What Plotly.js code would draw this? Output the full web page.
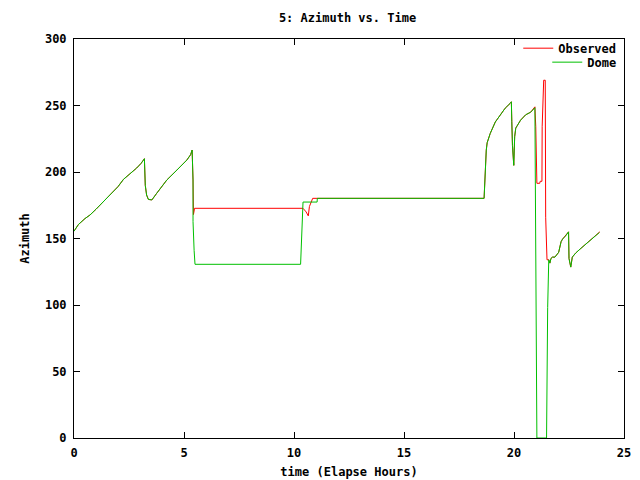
<!DOCTYPE html>
<html>
<head>
<meta charset="utf-8">
<script src="https://cdn.plot.ly/plotly-3.0.1.min.js"></script>
<style>html,body{margin:0;padding:0;background:#fff}#chart{width:640px;height:480px}</style>
</head>
<body>
<div id="chart"></div>
<script>
// Observed azimuth (red)
const obsTime = [0, 0.2, 0.5, 0.73, 1.0, 1.33, 1.79, 2.0, 2.25, 2.55, 2.85, 3.05, 3.2, 3.24, 3.3, 3.38, 3.54, 3.76, 4.0, 4.22, 4.68, 5.13, 5.3, 5.37, 5.41, 5.43, 5.48,
  10.41, 10.55, 10.65, 10.7, 10.78, 10.85, 18.64, 18.66, 18.7, 18.74, 18.78, 18.92, 19.15, 19.38, 19.6, 19.82, 19.88, 19.9, 19.93, 19.99, 20.03, 20.08, 20.3, 20.53, 20.76, 20.95,
  20.99, 21.04, 21.17, 21.19, 21.27, 21.28, 21.35, 21.42, 21.44, 21.5, 21.58, 21.63, 21.68, 21.75, 21.86, 22.03, 22.14, 22.21, 22.35, 22.48, 22.5, 22.58, 22.65, 22.8, 23.0, 23.2, 23.4, 23.6, 23.9];
const obsAz = [155.5, 160.5, 165, 167.7, 172, 177.7, 185, 189, 194.5, 198.5, 203, 206.5, 210, 190, 182.7, 179.4, 179, 184, 189, 194, 201.5, 209, 213, 216.5, 194, 168, 172.7,
  172.7, 170, 167, 174, 178, 180.2, 180.2, 188.7, 206.8, 216.5, 222, 229, 237.6, 242.8, 248, 251.5, 252.8, 237.8, 220, 205, 226.5, 233, 239, 243, 245, 249,
  234, 191.5, 191.5, 193, 193, 234, 269, 269, 166, 134, 134, 131.5, 135, 136, 136, 139.6, 147.6, 149.6, 152, 155, 135, 128.5, 136, 139, 142, 145, 148, 151, 155];

// Dome azimuth (green)
const domeTime = [0, 0.2, 0.5, 0.73, 1.0, 1.33, 1.79, 2.0, 2.25, 2.55, 2.85, 3.05, 3.2, 3.24, 3.3, 3.38, 3.54, 3.76, 4.0, 4.22, 4.68, 5.13, 5.3, 5.37, 5.41, 5.41, 5.46, 5.5,
  10.3, 10.33, 10.37, 10.41, 11.05, 11.06, 18.64, 18.66, 18.7, 18.74, 18.78, 18.92, 19.15, 19.38, 19.6, 19.82, 19.88, 19.9, 19.93, 19.99, 20.03, 20.08, 20.3, 20.53, 20.76, 20.95,
  20.97, 21.0, 21.04, 21.48, 21.49, 21.53, 21.58, 21.63, 21.68, 21.75, 21.86, 22.03, 22.14, 22.21, 22.35, 22.48, 22.5, 22.58, 22.65, 22.8, 23.0, 23.2, 23.4, 23.6, 23.88];
const domeAz = [155.5, 160.5, 165, 167.7, 172, 177.7, 185, 189, 194.5, 198.5, 203, 206.5, 210, 190, 182.7, 179.4, 179, 184, 189, 194, 201.5, 209, 213, 216.5, 194, 162.8, 141, 130.6,
  130.6, 141, 165.6, 177.4, 177.4, 180.2, 180.2, 188.7, 206.8, 216.5, 222, 229, 237.6, 242.8, 248, 251.5, 252.8, 237.8, 220, 205, 226.5, 233, 239, 243, 245, 248.3,
  186.5, 62, 0, 0, 34, 98, 134, 131.5, 135, 136, 136, 139.6, 147.6, 149.6, 152, 155, 135, 128.5, 136, 139, 142, 145, 148, 151, 154.5];

const xTicks = [0, 5, 10, 15, 20, 25];
const yTicks = [0, 50, 100, 150, 200, 250, 300];

const font = {family: '"DejaVu Sans Mono", "Liberation Mono", monospace', size: 12, color: '#000', weight: 'bold'};

const traces = [
  {x: obsTime, y: obsAz, type: 'scatter', mode: 'lines', name: 'Observed', legend: 'legend',
   line: {color: '#ff0000', width: 1}},
  {x: domeTime, y: domeAz, type: 'scatter', mode: 'lines', name: 'Dome', legend: 'legend2',
   line: {color: '#00c000', width: 1}}
];

const axisCommon = {
  showgrid: false, zeroline: false, showline: true, linecolor: '#000', linewidth: 1,
  mirror: 'ticks', ticks: 'inside', ticklen: 6, tickcolor: '#000', tickfont: font
};

const legendCommon = {xanchor: 'right', yanchor: 'middle', bgcolor: 'rgba(255,255,255,0)',
  font: font, itemwidth: 30};

const layout = {
  width: 640, height: 480,
  margin: {l: 74, r: 16, t: 39, b: 42},
  paper_bgcolor: '#fff', plot_bgcolor: '#fff',
  font: font,
  title: {text: '5: Azimuth vs. Time', font: font, x: 0.543, xanchor: 'center', y: 0.962, yanchor: 'middle'},
  xaxis: Object.assign({}, axisCommon, {range: [0, 25], tickvals: xTicks, ticktext: xTicks.map(String),
    ticklabelstandoff: 4, title: {text: 'time (Elapse Hours)', font: font, standoff: 8}}),
  yaxis: Object.assign({}, axisCommon, {range: [0, 300], tickvals: yTicks, ticktext: yTicks.map(String),
    ticklabelstandoff: 4, title: {text: 'Azimuth', font: font, standoff: 12}}),
  showlegend: true,
  legend: Object.assign({}, legendCommon, {x: 0.995, y: 0.977}),
  legend2: Object.assign({}, legendCommon, {x: 0.995, y: 0.942})
};

Plotly.newPlot('chart', traces, layout, {displayModeBar: false, staticPlot: true});
</script>
</body>
</html>
